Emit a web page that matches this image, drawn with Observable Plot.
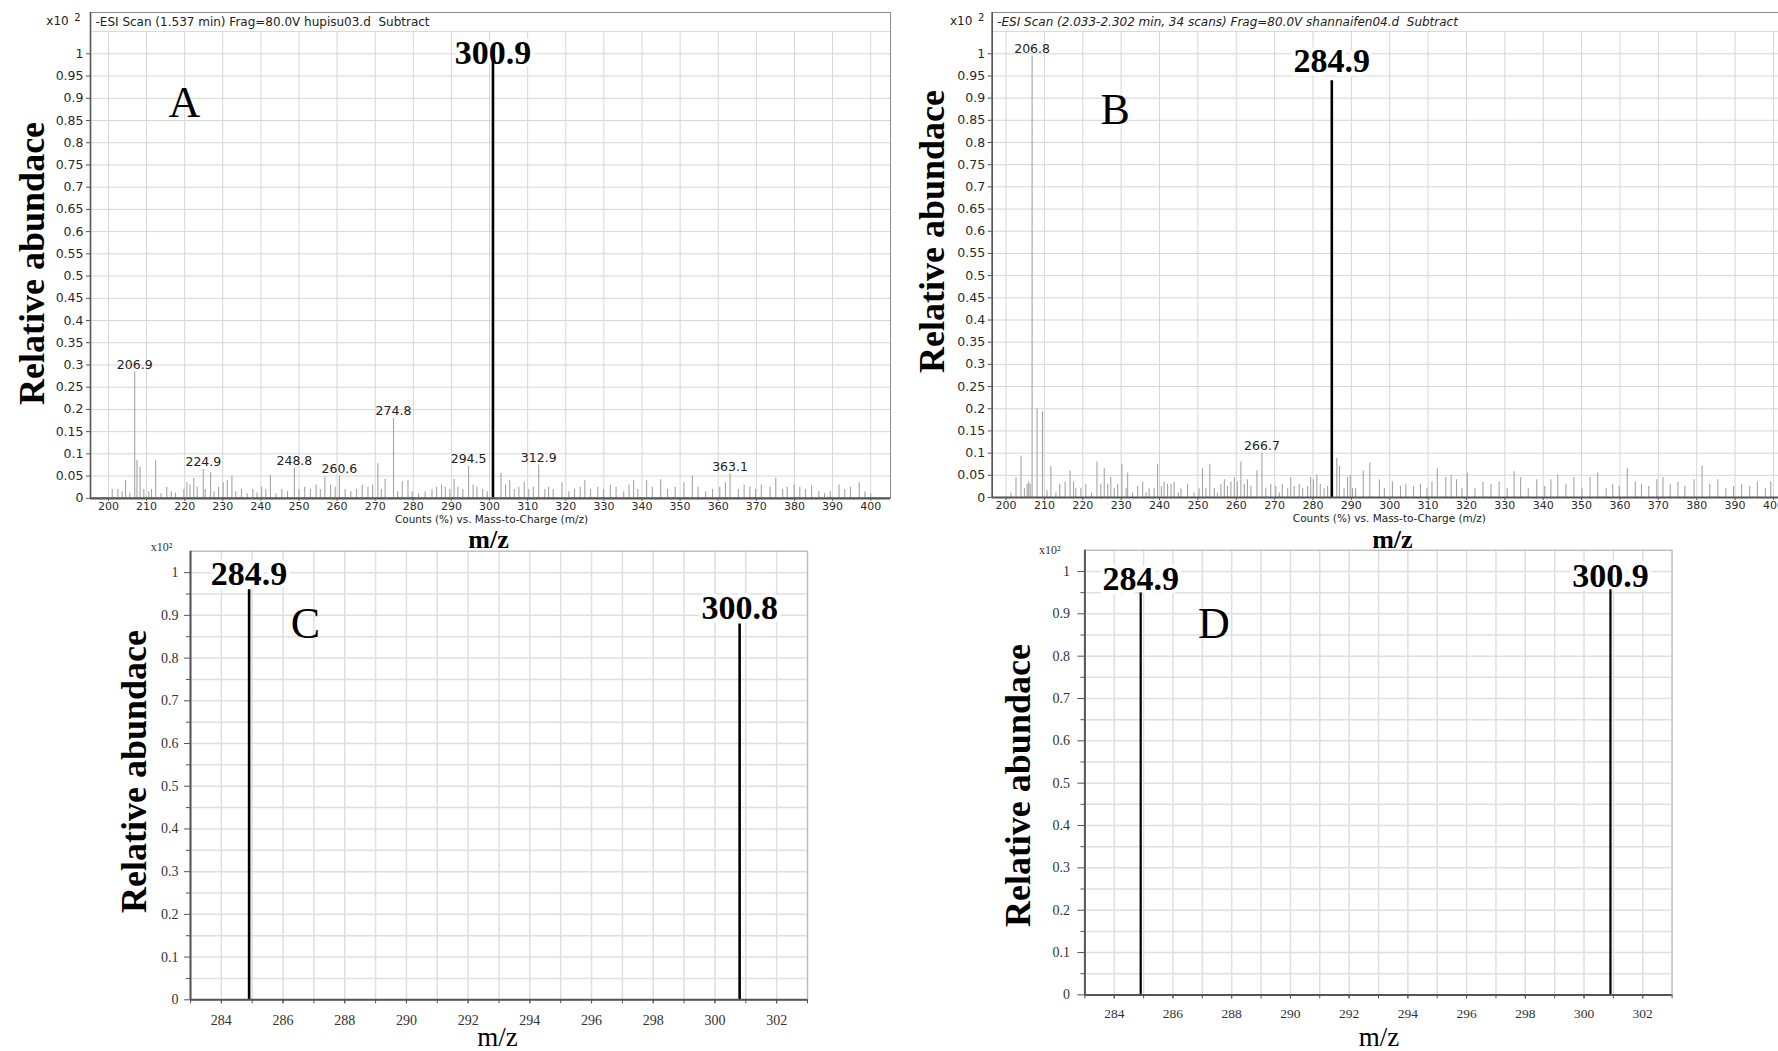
<!DOCTYPE html>
<html>
<head>
<meta charset="utf-8">
<script src="https://cdn.jsdelivr.net/npm/d3@7"></script>
<script src="https://cdn.jsdelivr.net/npm/@observablehq/plot@0.6"></script>
<style>
html, body { margin: 0; padding: 0; background: #fff; overflow: hidden; }
#root { position: relative; width: 1778px; height: 1051px; overflow: hidden; background: #fff; }
.panel { position: absolute; }
</style>
</head>
<body>
<div id="root"></div>
<script>
// ---------------- DATA ----------------
// Panel A: -ESI scan, hupisu03.d  (m/z, relative abundance x10^2)
const titleA = "-ESI Scan (1.537 min) Frag=80.0V hupisu03.d  Subtract";
const minorA = [
  [201.0,0.02],[202.5,0.02],[203.6,0.015],[204.5,0.04],[205.6,0.01],[207.5,0.085],[208.3,0.07],[209.3,0.02],
  [210.6,0.015],[211.3,0.02],[212.4,0.085],[213.8,0.01],[215.3,0.025],[216.5,0.015],[217.6,0.012],[219.8,0.02],
  [220.6,0.035],[221.4,0.03],[222.4,0.045],[223.3,0.025],[225.4,0.02],[226.8,0.058],[227.7,0.015],[228.9,0.025],
  [230.1,0.035],[231.2,0.04],[232.4,0.05],[233.4,0.015],[234.9,0.02],[236.4,0.01],[237.9,0.02],[239.0,0.012],
  [240.2,0.025],[241.3,0.02],[242.5,0.052],[244.0,0.01],[245.5,0.02],[247.0,0.015],[250.0,0.02],[251.5,0.025],
  [253.0,0.02],[254.5,0.03],[255.6,0.02],[256.8,0.047],[258.3,0.03],[259.5,0.025],[262.1,0.02],[263.6,0.015],
  [265.1,0.02],[266.6,0.03],[268.1,0.025],[269.3,0.03],[270.7,0.078],[271.6,0.02],[272.6,0.043],[275.9,0.015],
  [277.1,0.037],[278.6,0.04],[279.7,0.015],[281.4,0.01],[283.1,0.015],[284.9,0.02],[286.1,0.025],[287.4,0.03],
  [288.4,0.025],[289.6,0.02],[290.7,0.043],[291.7,0.025],[293.0,0.02],[295.7,0.03],[296.7,0.025],[298.2,0.02],
  [299.4,0.015],[303.0,0.056],[304.2,0.03],[305.3,0.04],[306.5,0.02],[307.7,0.025],[309.1,0.036],[310.3,0.02],
  [311.5,0.025],[314.5,0.02],[315.5,0.025],[316.7,0.02],[319.0,0.035],[320.8,0.015],[322.3,0.02],[323.8,0.025],
  [325.0,0.04],[326.5,0.02],[328.4,0.025],[329.9,0.02],[331.7,0.03],[333.2,0.025],[335.2,0.015],[336.6,0.03],
  [337.8,0.04],[338.9,0.02],[341.2,0.04],[342.7,0.025],[344.9,0.042],[346.7,0.02],[348.7,0.025],[351.0,0.035],
  [353.2,0.05],[354.7,0.025],[356.7,0.015],[358.5,0.02],[360.4,0.025],[361.9,0.035],[365.3,0.02],[366.8,0.03],
  [368.3,0.025],[369.8,0.02],[371.3,0.03],[373.6,0.025],[375.1,0.045],[376.9,0.02],[378.1,0.025],[379.9,0.03],
  [381.4,0.025],[382.9,0.02],[384.5,0.028],[386.4,0.015],[387.9,0.01],[389.4,0.015],[391.7,0.03],[393.2,0.02],
  [394.7,0.025],[397.0,0.035],[398.5,0.015],[400.0,0.01]
];
const labeledA = [[206.9,0.285],[224.9,0.065],[248.8,0.068],[260.6,0.05],[274.8,0.18],[294.5,0.072],[312.9,0.075],[363.1,0.055]];
const baseA = [[300.9,1.0]];

// Panel B: -ESI scan, shannaifen04.d
const titleB = "-ESI Scan (2.033-2.302 min, 34 scans) Frag=80.0V shannaifen04.d  Subtract";
const minorB = [
  [201.3,0.01],[202.6,0.044],[203.9,0.093],[204.8,0.02],[205.5,0.03],[205.9,0.035],[206.3,0.03],[208.1,0.2],
  [209.5,0.193],[210.7,0.015],[211.7,0.07],[213.0,0.01],[214.0,0.03],[215.4,0.035],[216.7,0.06],[217.6,0.035],
  [218.2,0.02],[219.5,0.02],[220.8,0.03],[222.3,0.01],[223.7,0.08],[224.7,0.03],[225.6,0.065],[226.5,0.03],
  [227.3,0.045],[228.2,0.02],[229.1,0.03],[230.2,0.075],[231.3,0.02],[231.7,0.055],[233.0,0.01],[234.3,0.025],
  [235.6,0.035],[236.5,0.01],[237.3,0.02],[238.6,0.02],[239.5,0.075],[240.5,0.025],[241.2,0.035],[242.1,0.03],
  [243.0,0.03],[243.8,0.035],[244.9,0.01],[245.6,0.02],[247.3,0.03],[249.0,0.01],[250.3,0.02],[251.2,0.065],
  [252.1,0.02],[253.1,0.075],[254.3,0.02],[255.1,0.01],[256.0,0.03],[256.9,0.04],[257.7,0.025],[258.6,0.035],
  [259.5,0.045],[260.3,0.035],[261.2,0.08],[262.1,0.03],[262.9,0.04],[263.8,0.025],[265.4,0.06],[267.7,0.02],
  [269.0,0.03],[270.3,0.025],[271.2,0.01],[272.0,0.03],[273.4,0.02],[274.2,0.045],[275.1,0.025],[276.4,0.03],
  [277.3,0.02],[278.6,0.025],[279.4,0.045],[280.1,0.04],[281.0,0.05],[281.9,0.03],[282.9,0.02],[283.8,0.025],
  [286.2,0.088],[286.9,0.07],[288.1,0.02],[289.0,0.045],[289.7,0.05],[290.3,0.02],[291.1,0.02],[293.1,0.06],
  [294.8,0.078],[297.3,0.04],[298.6,0.02],[300.7,0.035],[302.8,0.025],[304.2,0.03],[306.2,0.025],[308.0,0.03],
  [309.7,0.02],[311.0,0.035],[312.4,0.065],[314.6,0.045],[316.0,0.05],[317.4,0.04],[318.8,0.02],[320.2,0.055],
  [322.2,0.02],[324.3,0.035],[326.4,0.03],[328.5,0.035],[330.6,0.02],[332.4,0.058],[334.1,0.045],[336.1,0.02],
  [338.3,0.04],[340.4,0.025],[342.0,0.04],[343.8,0.05],[345.9,0.03],[348.0,0.045],[350.1,0.02],[352.2,0.045],
  [354.2,0.055],[356.4,0.02],[358.1,0.03],[359.8,0.025],[361.9,0.066],[364.0,0.035],[365.6,0.03],[367.5,0.025],
  [369.6,0.04],[371.2,0.045],[373.1,0.03],[375.1,0.035],[376.9,0.025],[379.3,0.04],[381.4,0.071],[383.4,0.03],
  [385.5,0.04],[387.6,0.02],[389.6,0.025],[391.7,0.03],[393.8,0.025],[395.8,0.035],[397.9,0.02],[399.3,0.035]
];
const labeledB = [[206.8,0.995],[266.7,0.1]];
const baseB = [[284.9,0.939]];

// Panels C and D: selected ions
const peaksC = [[284.9,0.96],[300.8,0.88]];
const peaksD = [[284.9,0.949],[300.9,0.957]];

// Tick values
const xTicksAB = d3.range(200, 401, 10);
const yTicksAB = d3.range(0, 21).map(i => +(i * 0.05).toFixed(2));
const xTicksCD = d3.range(284, 303, 2);
const xMinorCD = d3.range(283, 304, 1);
const yTicksCD = d3.range(0, 11).map(i => +(i * 0.1).toFixed(1));
const yMinorCD = d3.range(0, 10).map(i => +(i * 0.1 + 0.05).toFixed(2));
const yGridCD = d3.range(0, 22).map(i => +(i * 0.05).toFixed(2));

const yLabel = "Relative abundace";
const countsLabel = "Counts (%) vs. Mass-to-Charge (m/z)";

// ---------------- DRAW ----------------
const SANS = "DejaVu Sans";
const SERIF = "Liberation Serif";
const root = document.getElementById("root");

function place(svg, left, top, w) {
  const d = document.createElement("div");
  d.className = "panel";
  d.style.left = left + "px";
  d.style.top = top + "px";
  d.style.width = w + "px";
  d.appendChild(svg);
  root.appendChild(d);
}

function msPanel(c) {
  const gx = "#d6d6d6";
  return Plot.plot({
    width: c.width, height: c.height,
    marginLeft: c.ml, marginRight: c.mr, marginTop: c.mt, marginBottom: c.mb,
    x: {domain: c.xDomain},
    y: {domain: [0, 1.093]},
    style: {fontFamily: SANS, fontSize: "12px", color: "#2a2a2a", background: "transparent", maxWidth: "none", overflow: "visible"},
    marks: [
      Plot.ruleY(yTicksAB.concat([1.05]), {y: d => d, stroke: gx, strokeWidth: 1}),
      Plot.ruleX(xTicksAB, {x: d => d, y1: 0, y2: 1.05, stroke: gx, strokeWidth: 1}),
      Plot.frame({stroke: "#8c8c8c", strokeWidth: 1}),
      Plot.ruleX(c.minor.concat(c.labeled), {x: d => d[0], y1: 0, y2: d => d[1], stroke: "#a4a4a4", strokeWidth: 1.1}),
      Plot.text(c.labeled, {x: d => d[0], y: d => d[1], text: d => d[0].toFixed(1), lineAnchor: "bottom", dy: -3, fontSize: 12.5, fill: "#222"}),
      Plot.text(c.base, {x: d => d[0], y: d => d[1], text: d => d[0].toFixed(1), fontFamily: SERIF, fontWeight: "bold", fontSize: 34,
        lineAnchor: c.baseAnchor, dy: c.baseDy, fill: "#000", stroke: "#fff", strokeWidth: 8, paintOrder: "stroke"}),
      Plot.ruleX(c.base, {x: d => d[0], y1: 0, y2: d => d[1], stroke: "#000", strokeWidth: 2.6}),
      Plot.ruleY([0], {stroke: "#555", strokeWidth: 2.2}),
      Plot.ruleX([c.xDomain[0]], {stroke: "#555", strokeWidth: 1.6}),
      Plot.axisY(yTicksAB, {tickSize: 4, tickPadding: 3, tickFormat: d => String(d), label: null, fontSize: 12.5, stroke: "#555"}),
      Plot.axisX(xTicksAB, {tickSize: 3, tickPadding: 1, tickFormat: d => String(d), label: null, fontSize: 11, stroke: "#555"}),
      Plot.text([c.title], {frameAnchor: "top-left", dx: 5, dy: 10, textAnchor: "start", lineAnchor: "middle", fontSize: 12,
        fontStyle: c.italic ? "italic" : "normal", fill: "#222"}),
      Plot.text(["x10"], {frameAnchor: "top-left", dx: c.x10dx, dy: 9, textAnchor: "middle", lineAnchor: "middle", fontSize: 12, fill: "#222"}),
      Plot.text(["2"], {frameAnchor: "top-left", dx: c.x10dx + 20, dy: 5, textAnchor: "middle", lineAnchor: "middle", fontSize: 10, fill: "#222"}),
      Plot.text([countsLabel], {frameAnchor: "bottom", dx: c.countsDx, dy: c.countsDy, lineAnchor: "middle", fontSize: 10.5, fill: "#222"}),
      Plot.text(["m/z"], {frameAnchor: "bottom", dx: c.mzDx, dy: c.mzDy, lineAnchor: "middle", fontFamily: SERIF, fontWeight: "bold", fontSize: 26, fill: "#000"}),
      Plot.text([yLabel], {frameAnchor: "left", dx: c.ylDx, dy: c.ylDy, rotate: -90, lineAnchor: "middle", textAnchor: "middle",
        fontFamily: SERIF, fontWeight: "bold", fontSize: 36, fill: "#000"}),
      Plot.text([c.letter], {frameAnchor: "top-left", dx: c.letDx, dy: c.letDy, lineAnchor: "middle", textAnchor: "middle",
        fontFamily: SERIF, fontSize: 44, fill: "#000"})
    ]
  });
}

function ionPanel(c) {
  const gx = "#dfdfdf";
  return Plot.plot({
    width: c.width, height: c.height,
    marginLeft: c.ml, marginRight: c.mr, marginTop: c.mt, marginBottom: c.mb,
    x: {domain: [283, 303]},
    y: {domain: [0, 1.05]},
    style: {fontFamily: SERIF, fontSize: "14px", color: "#333", background: "transparent", maxWidth: "none", overflow: "visible"},
    marks: [
      Plot.ruleY(yGridCD, {y: d => d, stroke: gx, strokeWidth: 1.5}),
      Plot.ruleX(xMinorCD, {x: d => d, stroke: gx, strokeWidth: 1.5}),
      Plot.frame({stroke: "#bcbcbc", strokeWidth: 1.2}),
      Plot.text(c.peaks, {x: d => d[0], y: d => d[1], text: d => d[0].toFixed(1), fontFamily: SERIF, fontWeight: "bold", fontSize: 34,
        lineAnchor: "bottom", dy: c.labDy, fill: "#000", stroke: "#fff", strokeWidth: 8, paintOrder: "stroke"}),
      Plot.ruleX(c.peaks, {x: d => d[0], y1: 0, y2: d => d[1], stroke: "#000", strokeWidth: c.peakW}),
      Plot.ruleY([0], {stroke: "#555", strokeWidth: 2}),
      Plot.ruleX([283], {stroke: "#555", strokeWidth: 2}),
      Plot.axisY(yTicksCD, {tickSize: c.ytS, tickPadding: c.ytP, tickFormat: d => String(d), label: null, stroke: "#555", fontSize: 14}),
      Plot.axisY(yMinorCD, {tickSize: 4, tickFormat: () => "", label: null, stroke: "#555"}),
      Plot.axisX(xMinorCD, {tickSize: 4, tickFormat: () => "", label: null, stroke: "#555"}),
      Plot.axisX(xTicksCD, {tickSize: 4, tickPadding: c.xtP, tickFormat: d => String(d), label: null, stroke: "#555", fontSize: c.xFont}),
      Plot.text(["x10\u00b2"], {frameAnchor: "top-left", dx: c.x10dx, dy: c.x10dy, textAnchor: "middle", lineAnchor: "middle", fontSize: 12, fill: "#333"}),
      Plot.text(["m/z"], {frameAnchor: "bottom", dx: c.mzDx, dy: c.mzDy, lineAnchor: "middle", fontFamily: SERIF, fontSize: 27, fill: "#000"}),
      Plot.text([yLabel], {frameAnchor: "left", dx: c.ylDx, dy: c.ylDy, rotate: -90, lineAnchor: "middle", textAnchor: "middle",
        fontFamily: SERIF, fontWeight: "bold", fontSize: 36, fill: "#000"}),
      Plot.text([c.letter], {frameAnchor: "top-left", dx: c.letDx, dy: c.letDy, lineAnchor: "middle", textAnchor: "middle",
        fontFamily: SERIF, fontSize: 44, fill: "#000"})
    ]
  });
}

// Panel A
place(msPanel({
  width: 920, height: 560, ml: 90, mr: 30, mt: 12, mb: 62.2,
  xDomain: [195.3, 405.2], minor: minorA, labeled: labeledA, base: baseA,
  baseAnchor: "middle", baseDy: -1, title: titleA, italic: false, x10dx: -33,
  countsDx: 1, countsDy: 20.9, mzDx: -2, mzDy: 41.7, ylDx: -58, ylDy: 8,
  letter: "A", letDx: 94, letDy: 90
}), 0, 0, 920);

// Panel B
place(msPanel({
  width: 920, height: 560, ml: 91.7, mr: 24, mt: 12, mb: 63,
  xDomain: [196.4, 406], minor: minorB, labeled: labeledB, base: baseB,
  baseAnchor: "bottom", baseDy: -9, title: titleB, italic: true, x10dx: -31,
  countsDx: -5, countsDy: 20.9, mzDx: -2, mzDy: 41.7, ylDx: -59.7, ylDy: -23.5,
  letter: "B", letDx: 123, letDy: 97
}), 900, 0, 920);

// Panel C
place(ionPanel({
  width: 732, height: 511, ml: 100, mr: 15, mt: 10.8, mb: 51.7,
  peaks: peaksC, labDy: -5, peakW: 2.6, ytS: 6, ytP: 6, xtP: 11, xFont: 14,
  x10dx: -29, x10dy: -4, mzDx: -1.5, mzDy: 37.2, ylDx: -56, ylDy: -4,
  letter: "C", letDx: 115, letDy: 73
}), 90, 540, 732);

// Panel D
place(ionPanel({
  width: 720, height: 521, ml: 114.4, mr: 18.4, mt: 19.8, mb: 56.6,
  peaks: peaksD, labDy: -3, peakW: 2.2, ytS: 7, ytP: 8, xtP: 10, xFont: 13.5,
  x10dx: -35, x10dy: 0, mzDx: 0.6, mzDy: 42.1, ylDx: -66.4, ylDy: 13,
  letter: "D", letDx: 129, letDy: 74
}), 970, 530, 720);
</script>
</body>
</html>
